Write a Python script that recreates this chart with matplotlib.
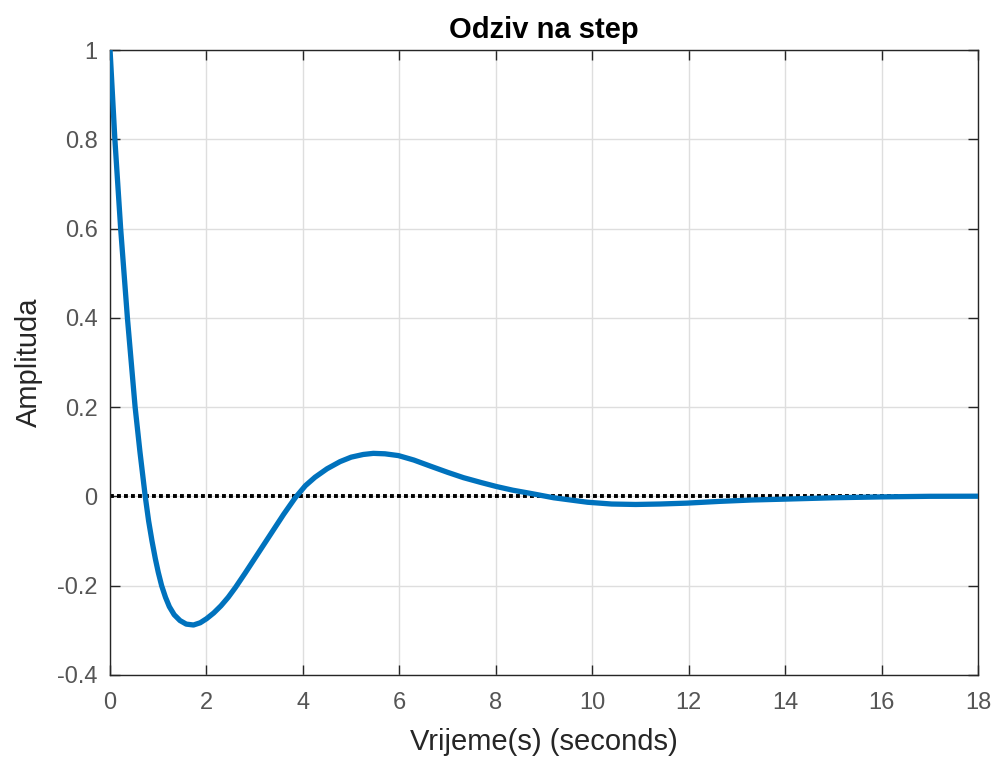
import numpy as np
import matplotlib.pyplot as plt

# step response
time_s = [0, 0.05, 0.1, 0.16, 0.22, 0.29, 0.36, 0.44, 0.52, 0.62, 0.73, 0.8,
          0.87, 0.94, 1.0, 1.07, 1.15, 1.23, 1.33, 1.45, 1.58, 1.73, 1.87, 2.0,
          2.15, 2.3, 2.45, 2.6, 2.8, 3.0, 3.2, 3.4, 3.6, 3.84, 4.05, 4.25, 4.5,
          4.77, 5.0, 5.25, 5.46, 5.7, 5.98, 6.3, 6.64, 7.0, 7.33, 7.7, 8.02,
          8.35, 8.71, 9.2, 9.9, 10.4, 10.9, 11.4, 11.96, 12.65, 13.3, 14, 15,
          16, 17, 18]
amplitude = [1.0, 0.9, 0.8, 0.7, 0.6, 0.5, 0.4, 0.3, 0.2, 0.1, 0.0, -0.055,
             -0.1, -0.14, -0.17, -0.2, -0.226, -0.247, -0.265, -0.278, -0.286,
             -0.288, -0.283, -0.274, -0.261, -0.245, -0.226, -0.204, -0.172,
             -0.139, -0.106, -0.073, -0.04, -0.003, 0.024, 0.043, 0.062, 0.078,
             0.088, 0.094, 0.0965, 0.0955, 0.0915, 0.0815, 0.068, 0.054, 0.042,
             0.031, 0.022, 0.014, 0.007, -0.003, -0.013, -0.017, -0.018, -0.017,
             -0.015, -0.011, -0.008, -0.006, -0.003, -0.001, 0.0003, 0.0005]
steady_state = 0.0

xticks = np.arange(0, 19, 2)
yticks = [-0.4, -0.2, 0, 0.2, 0.4, 0.6, 0.8, 1]
ytick_labels = ["-0.4", "-0.2", "0", "0.2", "0.4", "0.6", "0.8", "1"]

plt.rcParams['font.family'] = ['Liberation Sans', 'DejaVu Sans']

fig = plt.figure(figsize=(9.95, 7.58), dpi=100)
ax = fig.add_axes([0.1106, 0.1095, 0.8724, 0.8245])

ax.plot([0, 18], [steady_state, steady_state], color='black', lw=2.8,
        linestyle=(0, (1, 0.8)), zorder=2)
ax.plot(time_s, amplitude, color='#0072BD', lw=3.8, zorder=3,
        solid_joinstyle='round', solid_capstyle='round')

ax.set_xlim(0, 18)
ax.set_ylim(-0.4, 1)
ax.set_xticks(xticks)
ax.set_yticks(yticks)
ax.set_yticklabels(ytick_labels)
ax.grid(True, color='#dedede', lw=1)
ax.set_axisbelow(True)

for sp in ax.spines.values():
    sp.set_color('#262626')
    sp.set_linewidth(1.0)
ax.tick_params(direction='in', length=7, width=1, color='#262626',
               top=True, right=True, labelsize=17, labelcolor='#555555')
ax.tick_params(axis='x', pad=12)
ax.tick_params(axis='y', pad=9)

ax.set_title("Odziv na step", fontsize=21, fontweight='bold', pad=9)
ax.set_xlabel("Vrijeme(s) (seconds)", fontsize=21, color='#262626', labelpad=10)
ax.set_ylabel("Amplituda", fontsize=21, color='#262626', labelpad=10)

fig.savefig("out.png", dpi=100)
